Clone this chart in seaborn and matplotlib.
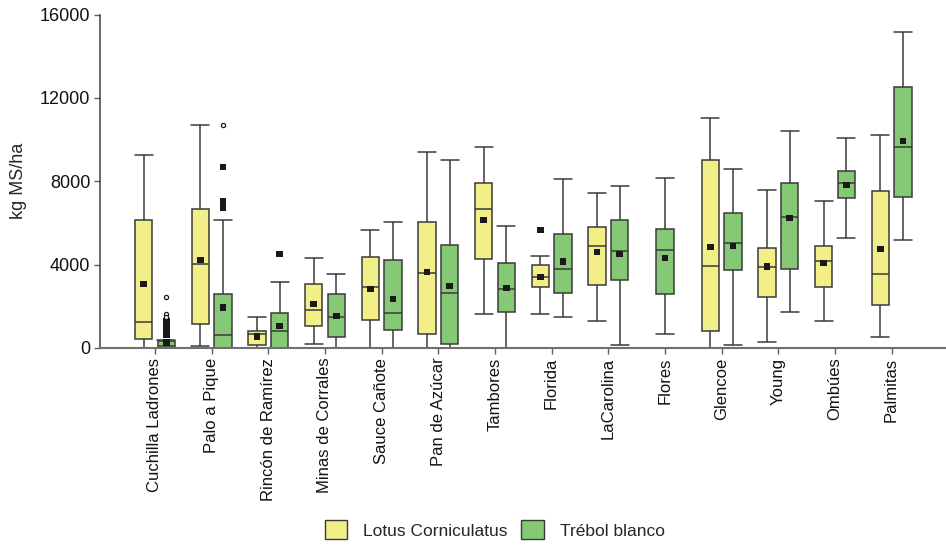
import matplotlib
matplotlib.use("Agg")
import matplotlib.pyplot as plt
from matplotlib.patches import Patch
import pandas as pd
import seaborn as sns

# Forage yield (kg MS/ha) per site: five-number summaries and means
sites = ["Cuchilla Ladrones", "Palo a Pique", "Rincón de Ramírez", "Minas de Corrales",
         "Sauce Cañote", "Pan de Azúcar", "Tambores", "Florida", "LaCarolina", "Flores",
         "Glencoe", "Young", "Ombúes", "Palmitas"]
species = ["Lotus Corniculatus", "Trébol blanco"]

lotus_low = [0, 110, 0, 180, 0, 0, 1650, 1650, 1300, None, 0, 300, 1300, 540]
lotus_q1 = [420, 1150, 160, 1040, 1345, 660, 4280, 2950, 3000, None, 800, 2440, 2930, 2050]
lotus_med = [1250, 4020, 650, 1810, 2950, 3620, 6650, 3430, 4870, None, 3920, 3880, 4160, 3570]
lotus_q3 = [6150, 6650, 800, 3090, 4360, 6050, 7930, 3960, 5800, None, 9020, 4820, 4870, 7530]
lotus_high = [9240, 10710, 1500, 4330, 5650, 9420, 9620, 4420, 7450, None, 11020, 7590, 7030, 10200]
lotus_mean = [3080, 4230, 560, 2100, 2820, 3640, 6150, 3400, 4600, None, 4850, 3920, 4070, 4760]

trebol_low = [0, 0, 0, 0, 20, 0, 20, 1490, 160, 660, 160, 1750, 5300, 5200]
trebol_q1 = [0, 0, 0, 540, 850, 180, 1750, 2630, 3280, 2580, 3730, 3780, 7190, 7240]
trebol_med = [100, 625, 800, 1490, 1700, 2630, 2835, 3780, 4660, 4725, 5060, 6295, 7896, 9625]
trebol_q3 = [320, 2580, 1670, 2580, 4210, 4965, 4100, 5490, 6150, 5700, 6500, 7896, 8470, 12525]
trebol_high = [380, 6120, 3170, 3570, 6050, 9020, 5860, 8090, 7780, 8135, 8570, 10395, 10075, 15170]
trebol_mean = [270, 1955, 1057, 1540, 2340, 2980, 2880, 4160, 4520, 4310, 4900, 6230, 7815, 9930]

# Outlying observations: circles (atypical) and squares (extreme)
circle_species = ["Trébol blanco"] * 4
circle_sites = ["Cuchilla Ladrones"] * 3 + ["Palo a Pique"]
circle_values = [2430, 1620, 1500, 10700]

square_species = ["Trébol blanco"] * 11 + ["Lotus Corniculatus"]
square_sites = ["Cuchilla Ladrones"] * 7 + ["Palo a Pique"] * 3 + ["Rincón de Ramírez", "Florida"]
square_values = [1270, 1170, 1070, 970, 870, 760, 650, 8680, 7030, 6710, 4520, 5655]

summaries = {
    "Lotus Corniculatus": (lotus_low, lotus_q1, lotus_med, lotus_q3, lotus_high, lotus_mean),
    "Trébol blanco": (trebol_low, trebol_q1, trebol_med, trebol_q3, trebol_high, trebol_mean),
}
palette = {"Lotus Corniculatus": "#F2EF88", "Trébol blanco": "#85C876"}
offsets = {"Lotus Corniculatus": -0.2, "Trébol blanco": 0.2}

# Position of each box on the numeric x scale (centred when a site has one species)
positions = {}
for i, site in enumerate(sites):
    present = [sp for sp in species if summaries[sp][0][i] is not None]
    for sp in present:
        positions[(site, sp)] = i + (offsets[sp] if len(present) == 2 else 0.0)

box_rows, mean_rows = [], []
for i, site in enumerate(sites):
    for sp in species:
        if (site, sp) not in positions:
            continue
        low, q1, med, q3, high, mean = (arr[i] for arr in summaries[sp])
        x = positions[(site, sp)]
        for v in (low, q1, med, q3, high):
            box_rows.append({"x": x, "kg": v, "species": sp})
        mean_rows.append({"x": x, "kg": mean})
box_df = pd.DataFrame(box_rows)
mean_df = pd.DataFrame(mean_rows)
circle_df = pd.DataFrame({"x": [positions[(s, p)] for s, p in zip(circle_sites, circle_species)],
                          "kg": circle_values})
square_df = pd.DataFrame({"x": [positions[(s, p)] for s, p in zip(square_sites, square_species)],
                          "kg": square_values})

sns.set_style("ticks")
plt.rcParams["font.family"] = ["Liberation Sans", "DejaVu Sans"]

fig, ax = plt.subplots(figsize=(9.46, 5.45), dpi=100)
fig.subplots_adjust(left=100 / 946, right=1.0, top=1 - 14.5 / 545, bottom=1 - 348 / 545)

line_col = "#3a3a3a"
sns.boxplot(data=box_df, x="x", y="kg", hue="species", palette=palette, saturation=1,
            orient="x", native_scale=True, dodge=False, width=0.76, whis=(0, 100),
            showfliers=False, linecolor=line_col, linewidth=1.1, legend=False,
            capwidths=0.32, ax=ax)

sns.scatterplot(data=mean_df, x="x", y="kg", marker="s", s=22, color="#1a1a1a",
                edgecolor="none", ax=ax, zorder=5)
sns.scatterplot(data=square_df, x="x", y="kg", marker="s", s=22, color="#1a1a1a",
                edgecolor="none", ax=ax, zorder=5)
sns.scatterplot(data=circle_df, x="x", y="kg", marker="o", s=9, facecolor="white",
                edgecolor="#1a1a1a", linewidth=0.9, ax=ax, zorder=5)

ax.set_xlim(-0.97, 13.96)
ax.set_ylim(0, 16000)
ax.set_yticks([0, 4000, 8000, 12000, 16000])
ax.set_yticklabels(["0", "4000", "8000", "12000", "16000"], fontsize=13)
ax.set_xticks(range(len(sites)))
ax.set_xticklabels(sites, rotation=90, fontsize=12, ha="center", va="top")
ax.set_xlabel("")
ax.set_ylabel("kg MS/ha", fontsize=13)
ax.yaxis.set_label_coords(-0.086, 0.5)

ax.tick_params(axis="both", length=4, width=1, color="#606060", pad=3, labelcolor="#111111")
for side in ("top", "right"):
    ax.spines[side].set_visible(False)
ax.spines["left"].set_color("#404040")
ax.spines["bottom"].set_color("#707070")
ax.spines["left"].set_linewidth(1.1)
ax.spines["bottom"].set_linewidth(1.5)

handles = [Patch(facecolor=palette[sp], edgecolor=line_col, linewidth=1.0) for sp in species]
fig.legend(handles, species, loc="center", bbox_to_anchor=(0.523, 0.028), ncol=2,
           frameon=False, fontsize=12.5, handlelength=1.3, handleheight=1.3,
           handletextpad=0.9, columnspacing=0.8)

fig.savefig("out.png", dpi=100)
